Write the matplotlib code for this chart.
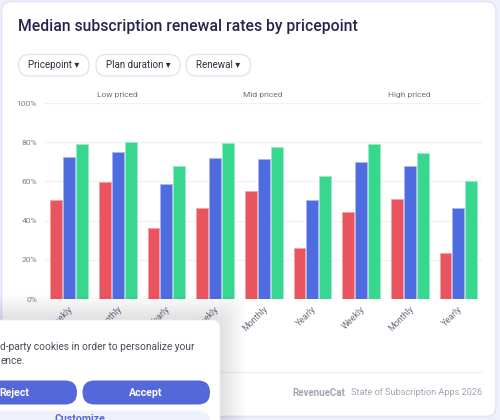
import matplotlib
matplotlib.use("Agg")
import matplotlib.pyplot as plt
from matplotlib.patches import FancyBboxPatch
import numpy as np

plt.rcParams['font.family'] = ['Roboto', 'DejaVu Sans']

# ---------------- data ----------------
pricepoints = ['Low priced', 'Mid priced', 'High priced']
durations = ['Weekly', 'Monthly', 'Yearly']
renewal_1 = [50.5, 59.9, 36.2, 46.2, 54.9, 26.2, 44.6, 50.9, 23.3]
renewal_2 = [72.3, 74.9, 58.7, 71.7, 71.6, 50.3, 70.1, 67.9, 46.5]
renewal_3 = [79.3, 80.3, 68.1, 79.7, 77.7, 62.8, 78.9, 74.6, 60.2]
y_ticks = [0, 20, 40, 60, 80, 100]
filters = ['Pricepoint', 'Plan duration', 'Renewal']
title = 'Median subscription renewal rates by pricepoint'

colors = ['#E9555F', '#4F6BE0', '#38D78F']
edge_colors = ['#F5A0A6', '#A8B6F2', '#9AEBC5']

W, H = 500, 420
fig = plt.figure(figsize=(W / 100, H / 100), dpi=100)
fig.patch.set_facecolor('#EEF0FB')

# ---------------- background card ----------------
bg = fig.add_axes([0, 0, 1, 1], zorder=0)
bg.set_xlim(0, W)
bg.set_ylim(H, 0)
bg.axis('off')
card = FancyBboxPatch((1.5, 1.5), 494.5, 415, boxstyle='round,pad=0,rounding_size=10',
                      facecolor='white', edgecolor='#E2E5F7', linewidth=1.2)
bg.add_patch(card)
bg.text(18.5, 27, title, fontsize=11.3, fontweight='medium', color='#26264A',
        va='center', ha='left')

pill_x = [(18.5, 89), (96, 180), (186, 250.5)]
for (x0, x1), label in zip(pill_x, filters):
    p = FancyBboxPatch((x0, 54.5), x1 - x0, 21.5, boxstyle='round,pad=0,rounding_size=10.5',
                       facecolor='white', edgecolor='#E4E4EA', linewidth=1.0)
    bg.add_patch(p)
    bg.text((x0 + x1) / 2, 65.5, label + ' \u25BE', fontsize=7.0, color='#2E2E3E',
            ha='center', va='center')

# footer
bg.plot([19, 482], [372, 372], color='#F0F0F5', lw=1)
bg.text(345, 392.5, 'RevenueCat', fontsize=7.0, fontweight='bold', color='#A4A4B4',
        ha='right', va='center')
bg.text(482, 392.5, 'State of Subscription Apps 2026', fontsize=6.6, color='#A4A4B4',
        ha='right', va='center')

# ---------------- chart ----------------
left, right = 44 / W, 482 / W
bottom, top = 1 - 299 / H, 1 - 103 / H
ax = fig.add_axes([left, bottom, right - left, top - bottom], zorder=1)
ax.patch.set_alpha(0)

n = len(renewal_1)
x = np.arange(n)
bw = 0.245
offs = [-0.265, 0.0, 0.265]
for vals, off, c, ec in zip([renewal_1, renewal_2, renewal_3], offs, colors, edge_colors):
    ax.bar(x + off + 0.015, vals, width=bw, color=c, edgecolor=ec, linewidth=0.6, zorder=3)

ax.set_xlim(-0.5, n - 0.5)
ax.set_ylim(0, 100)
ax.set_yticks(y_ticks)
ax.set_yticklabels([f'{t}%' for t in y_ticks], fontsize=6.1, color='#7E7E8E')
ax.yaxis.grid(True, color='#F1F1F4', linewidth=1, zorder=0)
ax.set_axisbelow(True)
ax.tick_params(axis='y', length=0, pad=5)
ax.set_xticks(x)
ax.set_xticklabels(durations * len(pricepoints), rotation=45, ha='right',
                   rotation_mode='anchor', fontsize=6.4, color='#6E6E7E')
ax.tick_params(axis='x', length=0, pad=4)
for s in ax.spines.values():
    s.set_visible(False)

for i, pp in enumerate(pricepoints):
    ax.text(i * 3 + 1, 102.5, pp, fontsize=6.0, color='#6E6E7E', ha='center', va='bottom')

# ---------------- cookie banner overlay ----------------
ov = fig.add_axes([0, 0, 1, 1], zorder=10)
ov.set_xlim(0, W)
ov.set_ylim(H, 0)
ov.axis('off')
ov.patch.set_alpha(0)
for k in range(10):
    g = 2.5 * (k + 1)
    sh = FancyBboxPatch((-30, 320 - g), 250 + g, 120 + g, boxstyle='round,pad=0,rounding_size=12',
                        facecolor='#1E1E40', edgecolor='none', alpha=0.012)
    ov.add_patch(sh)
banner = FancyBboxPatch((-30, 320), 250, 130, boxstyle='round,pad=0,rounding_size=8',
                        facecolor='white', edgecolor='#ECECF2', linewidth=0.6)
ov.add_patch(banner)
ov.text(0.5, 346.5, 'd-party cookies in order to personalize your', fontsize=7.3,
        color='#4A4A5A', ha='left', va='center')
ov.text(0.5, 361.5, 'ence.', fontsize=7.3, color='#4A4A5A', ha='left', va='center')
rej = FancyBboxPatch((-40, 380.5), 117, 24, boxstyle='round,pad=0,rounding_size=12',
                     facecolor='#5468DA', edgecolor='none')
acc = FancyBboxPatch((82.5, 380.5), 127.5, 24, boxstyle='round,pad=0,rounding_size=12',
                     facecolor='#5468DA', edgecolor='none')
ov.add_patch(rej)
ov.add_patch(acc)
ov.text(-0.5, 392.5, 'Reject', fontsize=7.6, fontweight='bold', color='white',
        ha='left', va='center')
ov.text(146, 392.5, 'Accept', fontsize=7.6, fontweight='bold', color='white',
        ha='center', va='center')
cus = FancyBboxPatch((-40, 410.5), 250, 30, boxstyle='round,pad=0,rounding_size=12',
                     facecolor='#EEF0FC', edgecolor='none')
ov.add_patch(cus)
ov.text(80, 419.5, 'Customize', fontsize=7.6, fontweight='bold', color='#5468DA',
        ha='center', va='center')

fig.savefig('out.png', dpi=100, facecolor=fig.get_facecolor())
